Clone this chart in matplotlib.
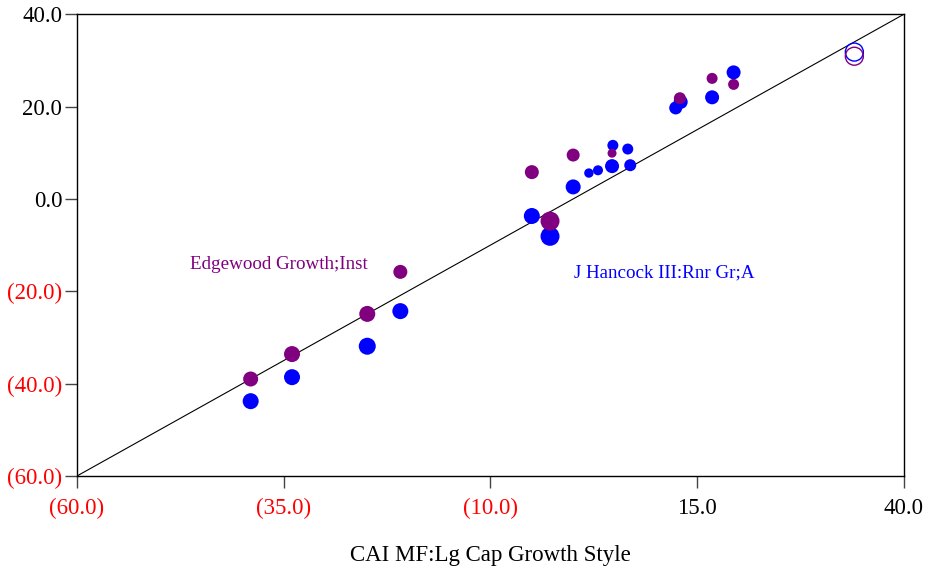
import matplotlib
matplotlib.use("Agg")
import matplotlib.pyplot as plt

# Edgewood Growth;Inst (purple)
edge_x = [-39.0, -34.0, -24.9, -20.9, -5.0, -2.8, 0.0, 4.7, 12.9, 16.8, 19.4]
edge_y = [-39.0, -33.6, -24.9, -15.8, 5.8, -4.8, 9.5, 9.9, 21.8, 26.1, 24.8]
edge_r = [7.5, 8, 8, 7, 7, 9.5, 6.5, 4.5, 6, 5.5, 5.5]   # bubble radius, px
edge_open = (34.0, 30.9, 9)

# J Hancock III:Rnr Gr;A (blue)
jh_x = [-39.0, -34.0, -24.9, -20.9, -5.0, -2.8, 0.0, 1.9, 3.0, 4.7, 4.8, 6.6, 6.9,
        12.4, 13.0, 16.8, 19.4]
jh_y = [-43.8, -38.6, -31.9, -24.3, -3.7, -8.1, 2.6, 5.6, 6.2, 7.1, 11.6, 10.8, 7.3,
        19.7, 21.0, 22.0, 27.4]
jh_r = [8, 8, 8.5, 8, 8, 9.5, 7.5, 4.7, 5, 7, 5.5, 5.5, 6,
        6.5, 7, 7, 7]
jh_open = (34.0, 31.8, 9)

ticks_x = [-60, -35, -10, 15, 40]
ticks_y = [-60, -40, -20, 0, 20, 40]

PURPLE = "#800080"
BLUE = "#0000FF"
FONT = "Liberation Serif"


def _area(r):
    return (2 * r * 0.72) ** 2


def _fmt(v):
    return f"({abs(v):.1f})" if v < 0 else f"{v:.1f}"


fig = plt.figure(figsize=(9.3, 5.68), dpi=100)
ax = fig.add_axes([0.0828, 0.162, 0.8892, 0.813])

ax.plot([-60, 40], [-60, 40], color="black", lw=0.8, zorder=1)

ax.scatter(jh_x, jh_y, s=[_area(r) for r in jh_r], color=BLUE, lw=0, zorder=2)
ax.scatter(edge_x, edge_y, s=[_area(r) for r in edge_r], color=PURPLE, lw=0, zorder=3)
ax.scatter([jh_open[0]], [jh_open[1]], s=_area(jh_open[2]), facecolor="none",
           edgecolor=BLUE, lw=1, zorder=3)
ax.scatter([edge_open[0]], [edge_open[1]], s=_area(edge_open[2]), facecolor="none",
           edgecolor=PURPLE, lw=1, zorder=3)

ax.text(-46.3, -14.3, "Edgewood Growth;Inst", color=PURPLE, fontsize=13.7,
        family=FONT, va="center", ha="left")
ax.text(0.1, -16.1, "J Hancock III:Rnr Gr;A", color=BLUE, fontsize=13.7,
        family=FONT, va="center", ha="left")

ax.set_xlim(-60, 40)
ax.set_ylim(-60, 40)
ax.set_xticks(ticks_x)
ax.set_yticks(ticks_y)
ax.set_xticklabels([_fmt(v) for v in ticks_x], family=FONT, fontsize=16.5)
ax.set_yticklabels([_fmt(v) for v in ticks_y], family=FONT, fontsize=16.5)
for lab, v in zip(ax.get_xticklabels(), ticks_x):
    lab.set_color("red" if v < 0 else "black")
for lab, v in zip(ax.get_yticklabels(), ticks_y):
    lab.set_color("red" if v < 0 else "black")
ax.tick_params(direction="out", length=8.6, width=1, color="#444444")
ax.tick_params(axis="y", pad=2)
ax.tick_params(axis="x", pad=7)

for sp in ax.spines.values():
    sp.set_linewidth(1)
    sp.set_color("black")

ax.set_xlabel("CAI MF:Lg Cap Growth Style", family=FONT, fontsize=16.5, labelpad=19)

fig.savefig("out.png", dpi=100)
